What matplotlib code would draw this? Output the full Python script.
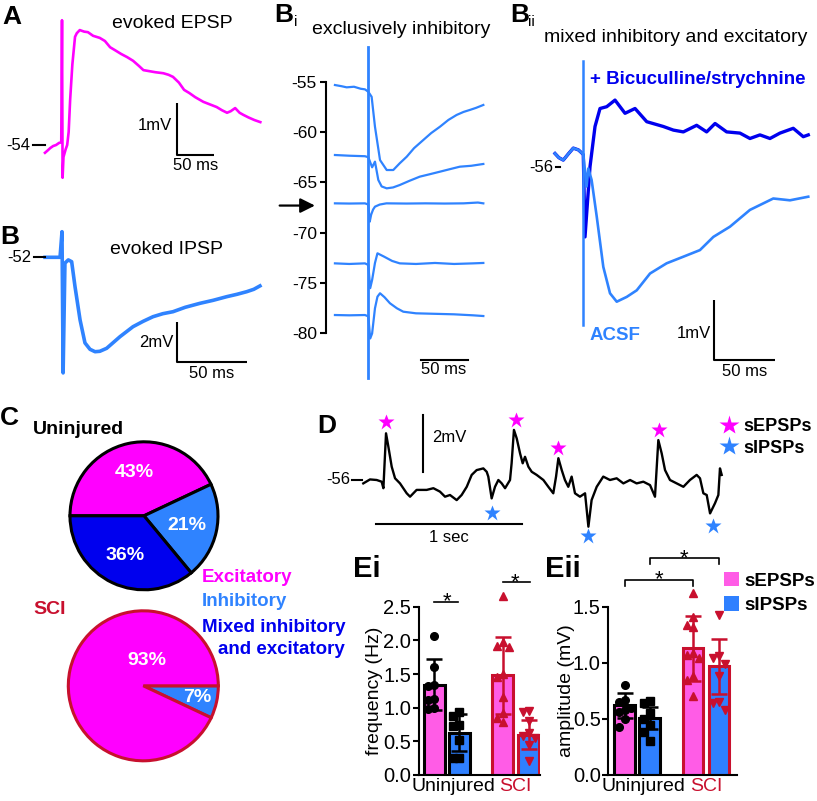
import matplotlib
matplotlib.use('Agg')
import matplotlib.pyplot as plt
from matplotlib.patches import Patch
from matplotlib.lines import Line2D

# ---- data ----
# A: evoked EPSP (ms, mV)
a_t = [-23, -19, -16, -12, -8, -4, -1, 0, 0.8, 2, 5, 7, 9, 11, 14, 17.6, 20, 24, 30, 35,
       42, 51, 58, 65, 72, 80, 88, 96, 104, 110, 118, 126, 137, 144, 150, 158, 165, 172, 180, 191,
       200, 209, 216, 223, 228, 234, 240, 245, 252, 260, 268]
a_v = [-54.15, -54.10, -54.06, -54.02, -54.00, -53.96, -53.95, -51.6, -54.63, -54.23,
       -54.08, -54.0, -53.75, -53.13, -52.45, -51.92, -51.85, -51.79, -51.82, -51.83,
       -51.9, -51.94, -52.0, -52.12, -52.18, -52.25, -52.31, -52.38, -52.48, -52.56,
       -52.58, -52.6, -52.62, -52.65, -52.69, -52.8, -52.94, -53.0, -53.08, -53.17,
       -53.22, -53.27, -53.33, -53.38, -53.35, -53.29, -53.38, -53.42, -53.47, -53.52, -53.56]

# B: evoked IPSP
b_t = [-12.1, -8, -4, -1.4, 0, 0.8, 2.1, 4.5, 6.9, 9.3, 12.9, 16.4, 20, 23.6, 27, 31.9, 36, 41.4,
       50.7, 58, 65, 72, 79.3, 88, 98.6, 108, 117.6, 125, 131.9, 137, 141.4]
b_v = [-52, -52, -52, -52, -50.72, -57.78, -52.29, -52.13, -52.22, -53.47, -55.13, -56.28, -56.6,
       -56.72, -56.7, -56.55, -56.3, -55.97, -55.47, -55.2, -54.97, -54.82, -54.72, -54.5, -54.3,
       -54.15, -53.97, -53.85, -53.72, -53.6, -53.43]

# Bi: exclusively inhibitory, five holding potentials
bi_traces = [
    ([-35, -28, -22.7, -15, -8, -3.5, 0, 3.5, 7, 12.3, 19.3, 26.2, 33, 40.3, 48, 57.7, 66, 75.2,
      84, 92.7, 100, 106.7, 113, 120.7],
     [-55.33, -55.45, -55.56, -55.5, -55.7, -55.76, -56.0, -56.5, -59.47, -62.78, -63.77, -63.77,
      -63.1, -62.45, -61.6, -60.79, -60.1, -59.47, -58.8, -58.3, -58.0, -57.8, -57.6, -57.31]),
    ([-35, -20, -3.5, 0, 4, 7, 10.5, 14, 19.3, 26, 33, 43, 54, 64, 75, 85, 96, 108, 120.7],
     [-62.28, -62.35, -62.4, -62.5, -63.5, -62.94, -64.76, -65.4, -65.59, -65.5, -65.26, -64.85,
      -64.43, -64.2, -63.94, -63.7, -63.44, -63.35, -63.17]),
    ([-35, -20, -3.5, 0, 1.5, 3, 5, 7, 12, 19, 40, 60, 80, 100, 115, 120.7],
     [-67.08, -67.1, -67.08, -67.2, -68.9, -68.2, -67.7, -67.41, -67.2, -67.08, -67.1, -67.08,
      -67.1, -67.08, -67.0, -67.08]),
    ([-35, -20, -3.5, 0, 2, 4, 7, 9.6, 16.5, 25, 33, 50, 70, 90, 110, 120.7],
     [-73.04, -73.1, -73.04, -73.2, -75.5, -74.69, -73.0, -72.04, -72.37, -72.8, -73.04, -73.1,
      -73.0, -73.1, -73.04, -73.0]),
    ([-35, -20, -3.5, 0, 2, 4, 7, 9.6, 12.3, 17, 22.7, 30, 36.7, 50, 70, 90, 110, 120.7],
     [-78.17, -78.2, -78.17, -78.3, -80.5, -80.0, -77.5, -76.35, -76.01, -76.4, -77.0, -77.5,
      -77.84, -78.0, -78.05, -78.1, -78.2, -78.27]),
]
bi_ticks = [-55, -60, -65, -70, -75, -80]

# Bii: mixed, ACSF vs bicuculline/strychnine
bii_pre_t = [-23.2, -20, -16.4, -12, -8.2, -4, -1.3]
bii_pre_v = [-55.78, -55.85, -55.89, -55.78, -55.69, -55.72, -55.77]
bic_t = [0, 1.4, 5.5, 9.6, 13.7, 19.2, 26, 34.2, 42.4, 52, 65.6, 73.8, 82, 92.9, 101.1, 108,
         117.5, 128.4, 136.6, 144.8, 153, 161.2, 172.1, 180.3, 184.4]
bic_v = [-55.8, -57.17, -56.0, -55.33, -55.03, -55.0, -54.89, -55.11, -55.03, -55.25, -55.33,
         -55.39, -55.42, -55.31, -55.42, -55.28, -55.42, -55.44, -55.53, -55.47, -55.53, -55.44,
         -55.36, -55.5, -55.47]
acsf_t = [0, 2.7, 4.1, 6.8, 11, 16.4, 21.9, 27.4, 35.6, 43.8, 54.7, 68.3, 82, 95.6, 106.6,
          120.2, 136.6, 155.7, 169.4, 184.4]
acsf_v = [-55.8, -56.33, -56.03, -56.22, -56.83, -57.67, -58.11, -58.25, -58.17, -58.06,
          -57.78, -57.61, -57.5, -57.39, -57.17, -57.0, -56.72, -56.53, -56.56, -56.5]

# C: response types (%)
pie_labels = ['Excitatory', 'Inhibitory', 'Mixed inhibitory', 'and excitatory']
uninjured_pct = [43, 21, 36]
sci_pct = [7, 93]

# D: spontaneous PSPs (s, mV)
d_t = [0.002, 0.048, 0.094, 0.128, 0.140, 0.158, 0.174, 0.197, 0.220, 0.254, 0.300, 0.323,
       0.368, 0.437, 0.483, 0.528, 0.563, 0.597, 0.643, 0.677, 0.712, 0.746, 0.780, 0.826,
       0.849, 0.860, 0.883, 0.906, 0.929, 0.952, 0.975, 1.009, 1.020, 1.036, 1.055, 1.078,
       1.096, 1.112, 1.135, 1.158, 1.192, 1.238, 1.272, 1.306, 1.325, 1.341, 1.364, 1.386,
       1.409, 1.432, 1.455, 1.489, 1.524, 1.547, 1.569, 1.604, 1.649, 1.695, 1.741, 1.787,
       1.833, 1.878, 1.924, 1.970, 2.004, 2.027, 2.050, 2.073, 2.107, 2.153, 2.199, 2.244,
       2.290, 2.313, 2.336, 2.359, 2.382, 2.416, 2.439, 2.450, 2.462]
d_v = [-56.12, -55.98, -56.00, -56.06, -56.29, -54.35, -54.82, -55.53, -55.94, -56.12, -56.47,
       -56.59, -56.35, -56.35, -56.29, -56.41, -56.59, -56.53, -56.71, -56.53, -56.24, -55.82,
       -55.65, -55.59, -55.71, -55.88, -56.65, -56.24, -56.00, -56.12, -56.29, -56.00, -55.41,
       -54.23, -54.53, -55.06, -55.41, -55.18, -55.53, -55.71, -55.82, -56.00, -56.24, -56.47,
       -55.88, -55.23, -55.65, -56.00, -56.24, -55.88, -56.47, -56.59, -56.47, -57.65, -56.71,
       -56.24, -55.88, -56.00, -55.94, -56.12, -56.00, -56.12, -56.06, -56.18, -56.59, -54.59,
       -55.06, -55.65, -56.00, -56.12, -56.24, -56.00, -55.82, -55.94, -56.47, -56.53, -57.18,
       -56.82, -56.53, -55.59, -55.82]
sepsp_t = [0.158, 1.050, 1.341, 2.034]
sepsp_v = [-53.94, -53.88, -54.88, -54.23]
sipsp_t = [0.888, 1.547, 2.400]
sipsp_v = [-57.18, -57.98, -57.61]

# E: group data (uninjured sEPSP, uninjured sIPSP, SCI sEPSP, SCI sIPSP)
freq_mean = [1.34, 0.63, 1.48, 0.60]
freq_sd = [0.38, 0.27, 0.57, 0.21]
freq_pts = [[2.06, 1.61, 1.33, 1.32, 1.13, 1.12, 0.99, 0.98],
            [0.93, 0.88, 0.74, 0.73, 0.52, 0.25, 0.25],
            [2.66, 1.98, 1.91, 1.90, 1.50, 1.46, 1.16, 0.92, 0.84, 0.79],
            [0.95, 0.93, 0.80, 0.62, 0.58, 0.55, 0.45, 0.21]]
amp_mean = [0.62, 0.51, 1.13, 0.97]
amp_sd = [0.11, 0.10, 0.29, 0.245]
amp_pts = [[0.80, 0.67, 0.65, 0.60, 0.58, 0.56, 0.50, 0.43],
           [0.66, 0.64, 0.55, 0.50, 0.45, 0.38, 0.30],
           [1.62, 1.41, 1.34, 1.32, 1.09, 1.07, 1.04, 0.88, 0.85, 0.70],
           [1.43, 1.06, 1.04, 0.99, 0.88, 0.65, 0.64, 0.58]]
groups = ['Uninjured', 'SCI']

# ---- style ----
plt.rcParams['font.family'] = ['Liberation Sans', 'DejaVu Sans']
MAGENTA = '#ff00ff'
LBLUE = '#2f83ff'
DBLUE = '#0000ee'
RED = '#c8102e'
PINK = '#ff5ce6'
BARBLUE = '#2f80ff'

W, H = 817, 801
fig = plt.figure(figsize=(W / 100, H / 100), dpi=100)


def box(left, top, width, height):
    return fig.add_axes([left / W, 1 - (top + height) / H, width / W, height / H])


def trace_axes(left, top, width, height, px0, py0, t0, v0, sx, sy):
    # axes whose data scale matches sx px per time unit and sy px per mV
    ax = box(left, top, width, height)
    ax.set_xlim(t0 + (left - px0) / sx, t0 + (left + width - px0) / sx)
    ax.set_ylim(v0 - (top + height - py0) / sy, v0 - (top - py0) / sy)
    ax.axis('off')
    return ax


def ftext(x, y, s, **kw):
    kw.setdefault('va', 'center')
    fig.text(x / W, 1 - y / H, s, **kw)


def lbar(ax, t, v, dt, dv):
    ax.plot([t, t, t + dt], [v + dv, v, v], color='k', lw=1.5, clip_on=False,
            solid_capstyle='butt')


# ---- A ----
ax = trace_axes(0, 0, 280, 185, 62, 145, 0, -54, 0.74, 52)
ax.plot(a_t, a_v, color=MAGENTA, lw=1.9)
ax.plot([-39, -23], [-54, -54], color='k', lw=1.5)
lbar(ax, 155.4, -54.19, 50, 1)
ftext(2, 17, 'A', fontsize=19, fontweight='bold')
ftext(172, 23, 'evoked EPSP', fontsize=14, ha='center')
ftext(30, 145, '-54', fontsize=12, ha='right')
ftext(172, 126, '1mV', fontsize=12, ha='right')
ftext(196, 166, '50 ms', fontsize=12, ha='center')

# ---- B ----
ax = trace_axes(0, 185, 280, 200, 62, 257.3, 0, -52, 1.4, 20)
ax.plot(b_t, b_v, color=LBLUE, lw=2.6)
ax.plot([-20, -12.1], [-52, -52], color='k', lw=1.5)
lbar(ax, 82.1, -57.24, 50, 2)
ftext(0, 237, 'B', fontsize=19, fontweight='bold')
ftext(166, 249, 'evoked IPSP', fontsize=14, ha='center')
ftext(31, 257, '-52', fontsize=12, ha='right')
ftext(174, 343, '2mV', fontsize=12, ha='right')
ftext(212, 374, '50 ms', fontsize=12, ha='center')

# ---- Bi ----
ax = trace_axes(326, 40, 170, 345, 368.3, 81.7, 0, -55, 0.953, 10.07)
ax.set_axis_on()
for side in ('top', 'right', 'bottom'):
    ax.spines[side].set_visible(False)
ax.spines['left'].set_bounds(min(bi_ticks), max(bi_ticks))
ax.spines['left'].set_linewidth(1.5)
ax.set_yticks(bi_ticks)
ax.set_yticklabels([str(v) for v in bi_ticks])
ax.set_xticks([])
ax.tick_params(axis='y', length=4.5, width=1.5, labelsize=12.5, pad=2)
ax.plot([0, 0], [-51.55, -84.42], color=LBLUE, lw=2.0)
for t, v in bi_traces:
    ax.plot(t, v, color=LBLUE, lw=1.6)
ax.plot([55, 105], [-82.64, -82.64], color='k', lw=1.5, clip_on=False)
ax.annotate('', xy=(-56, -67.3), xytext=(-93, -67.3), annotation_clip=False,
            arrowprops=dict(arrowstyle='-|>', color='k', lw=1.6, mutation_scale=22,
                            shrinkA=0, shrinkB=0))
ftext(274, 15, 'B', fontsize=19, fontweight='bold')
ftext(294, 22, 'i', fontsize=11)
ftext(401, 30, 'exclusively inhibitory', fontsize=14, ha='center')
ftext(444, 370, '50 ms', fontsize=12, ha='center')

# ---- Bii ----
ax = trace_axes(540, 40, 277, 345, 583.3, 166.7, 0, -56, 1.22, 60)
ax.plot(bii_pre_t + bic_t, bii_pre_v + bic_v, color=DBLUE, lw=2.4)
ax.plot(bii_pre_t + acsf_t, bii_pre_v + acsf_v, color=LBLUE, lw=1.9)
ax.plot([0, 0], [-54.24, -58.64], color=LBLUE, lw=1.8)
ax.plot([-22.4, -19.1], [-56, -56], color='k', lw=1.5, clip_on=False)
lbar(ax, 107.1, -59.22, 50, 1)
ftext(510, 15, 'B', fontsize=19, fontweight='bold')
ftext(528, 22, 'ii', fontsize=11)
ftext(676, 37, 'mixed inhibitory and excitatory', fontsize=14, ha='center')
ftext(590, 80, '+ Bicuculline/strychnine', fontsize=13.5, fontweight='bold', color=DBLUE)
ftext(590, 336, 'ACSF', fontsize=13.5, fontweight='bold', color=LBLUE)
ftext(553, 167, '-56', fontsize=12, ha='right')
ftext(711, 333, '1mV', fontsize=12, ha='right')
ftext(745, 372, '50 ms', fontsize=12, ha='center')

# ---- C ----
ftext(0, 418, 'C', fontsize=19, fontweight='bold')
ftext(33, 429, 'Uninjured', fontsize=14, fontweight='bold')
ftext(33, 609, 'SCI', fontsize=14, fontweight='bold', color=RED)

ax = box(64, 435.8, 160, 160)
w, txt, aut = ax.pie(uninjured_pct, colors=[MAGENTA, LBLUE, DBLUE], startangle=180,
                     counterclock=False, radius=0.925, autopct=lambda p: f'{p:.0f}%',
                     pctdistance=0.6, wedgeprops=dict(edgecolor='k', linewidth=2.2),
                     textprops=dict(color='white', fontweight='bold', fontsize=14))
ax.set_xlim(-1, 1)
ax.set_ylim(-1, 1)

ax = box(63.3, 605.8, 160, 160)
w, txt, aut = ax.pie(sci_pct, colors=[LBLUE, MAGENTA], startangle=0,
                     counterclock=False, radius=75 / 80, autopct=lambda p: f'{p:.0f}%',
                     wedgeprops=dict(edgecolor=RED, linewidth=2.2),
                     textprops=dict(color='white', fontweight='bold', fontsize=14))
aut[0].set_position((0.67, -0.15))
aut[1].set_position((0.04, 0.32))
ax.set_xlim(-1, 1)
ax.set_ylim(-1, 1)

ftext(202, 578, pie_labels[0], fontsize=13.5, fontweight='bold', color=MAGENTA)
ftext(202, 602, pie_labels[1], fontsize=13.5, fontweight='bold', color=LBLUE)
ftext(202, 627, pie_labels[2], fontsize=13.5, fontweight='bold', color=DBLUE)
ftext(218, 650, pie_labels[3], fontsize=13.5, fontweight='bold', color=DBLUE)

# ---- D ----
ax = trace_axes(320, 395, 480, 160, 363, 480, 0, -56, 145.7, 28.3)
ax.plot(d_t, d_v, color='k', lw=1.7)
ax.plot(sepsp_t, sepsp_v, '*', color=MAGENTA, ms=12, mec='none')
ax.plot(sipsp_t, sipsp_v, '*', color=LBLUE, ms=12, mec='none')
ax.plot([0.414, 0.414], [-53.70, -55.70], color='k', lw=1.5)
ax.plot([0.089, 1.089], [-57.57, -57.57], color='k', lw=1.5)
ax.plot([-0.075, -0.007], [-56, -56], color='k', lw=1.5)
ax.legend(handles=[Line2D([], [], marker='*', ls='none', color=MAGENTA, ms=15, mec='none'),
                   Line2D([], [], marker='*', ls='none', color=LBLUE, ms=15, mec='none')],
          labels=['sEPSPs', 'sIPSPs'], loc='upper left', frameon=False,
          bbox_to_anchor=(720 / W, 1 - 418 / H), bbox_transform=fig.transFigure,
          prop=dict(weight='bold', size=13), handlelength=1.0, handletextpad=0.3,
          labelspacing=0.25, borderpad=0, borderaxespad=0)
ftext(317, 426, 'D', fontsize=19, fontweight='bold')
ftext(432, 437, '2mV', fontsize=12)
ftext(449, 538, '1 sec', fontsize=12, ha='center')
ftext(350, 480, '-56', fontsize=12, ha='right')

# ---- E ----
pos = [0, 1, 2.73, 3.77]
faces = [PINK, BARBLUE, PINK, BARBLUE]
edges = ['k', 'k', RED, RED]
marks = ['o', 's', '^', 'v']


def swarm(vals, yspan, step=0.24):
    placed = []
    for v in vals:
        for off in (0, -step, step, -2 * step, 2 * step):
            if all(abs(off - x) > 0.9 * step or abs(v - y) > 0.05 * yspan for x, y in placed):
                break
        placed.append((off, v))
    return [p[0] for p in placed]


def bar_panel(ax, means, sds, pts, ymax, step, ylabel, label_x):
    for i in range(4):
        ax.bar(pos[i], means[i], width=0.82, color=faces[i], edgecolor=edges[i],
               linewidth=2.2, zorder=2)
        offs = swarm(pts[i], ymax)
        ax.plot([pos[i] + o for o in offs], pts[i], marks[i], color=edges[i], ms=5.5,
                ls='none', zorder=3, clip_on=False)
        ax.errorbar(pos[i], means[i], yerr=sds[i], color=edges[i], capsize=6,
                    elinewidth=1.8, capthick=1.8, zorder=4)
    ax.set_ylim(0, ymax)
    ticks = [step * k for k in range(int(round(ymax / step)) + 1)]
    ax.set_yticks(ticks)
    ax.set_yticklabels([f'{v:.1f}' for v in ticks])
    ax.set_xticks([0.75, (pos[2] + pos[3]) / 2])
    ax.set_xticklabels(groups)
    ax.get_xticklabels()[1].set_color(RED)
    for side in ('top', 'right'):
        ax.spines[side].set_visible(False)
    for side in ('left', 'bottom'):
        ax.spines[side].set_linewidth(1.5)
    ax.tick_params(axis='y', length=4.5, width=1.5, labelsize=14.5, pad=1)
    ax.tick_params(axis='x', length=0, labelsize=14, pad=2)
    ax.set_ylabel(ylabel, fontsize=14)
    ax.yaxis.set_label_coords(label_x, 0.5)


ax = box(419, 606.7, 121, 168.3)
ax.set_xlim(-0.61, 4.23)
bar_panel(ax, freq_mean, freq_sd, freq_pts, 2.5, 0.5, 'frequency (Hz)', -0.30)
ax.plot([pos[0], pos[1] - 0.04], [2.57, 2.57], color='k', lw=1.2, clip_on=False)
ax.text((pos[0] + pos[1]) / 2, 2.57, '*', ha='center', va='center', fontsize=16)
ax.plot([pos[2], pos[3] + 0.06], [2.86, 2.86], color='k', lw=1.2, clip_on=False)
ax.text((pos[2] + pos[3]) / 2, 2.86, '*', ha='center', va='center', fontsize=16)
ftext(353, 569, 'Ei', fontsize=21, fontweight='bold')

ax = box(608.3, 606.7, 128.7, 168.3)
ax.set_xlim(-0.656, 4.49)
bar_panel(ax, amp_mean, amp_sd, amp_pts, 1.5, 0.5, 'amplitude (mV)', -0.255)
for a, b, y in [(pos[0], pos[2], 1.738), (pos[1], pos[3], 1.931)]:
    ax.plot([a, a, b, b], [y - 0.05, y, y, y - 0.05], color='k', lw=1.2, clip_on=False)
    ax.text((a + b) / 2, y, '*', ha='center', va='center', fontsize=16)
ax.legend(handles=[Patch(facecolor=PINK), Patch(facecolor=BARBLUE)],
          labels=['sEPSPs', 'sIPSPs'], loc='upper left', frameon=False,
          bbox_to_anchor=(724 / W, 1 - 572 / H), bbox_transform=fig.transFigure,
          prop=dict(weight='bold', size=13.5), handlelength=0.8, handleheight=0.8,
          handletextpad=0.3, labelspacing=0.35, borderpad=0, borderaxespad=0)
ftext(545, 569, 'Eii', fontsize=21, fontweight='bold')

fig.savefig('out.png', dpi=100)
